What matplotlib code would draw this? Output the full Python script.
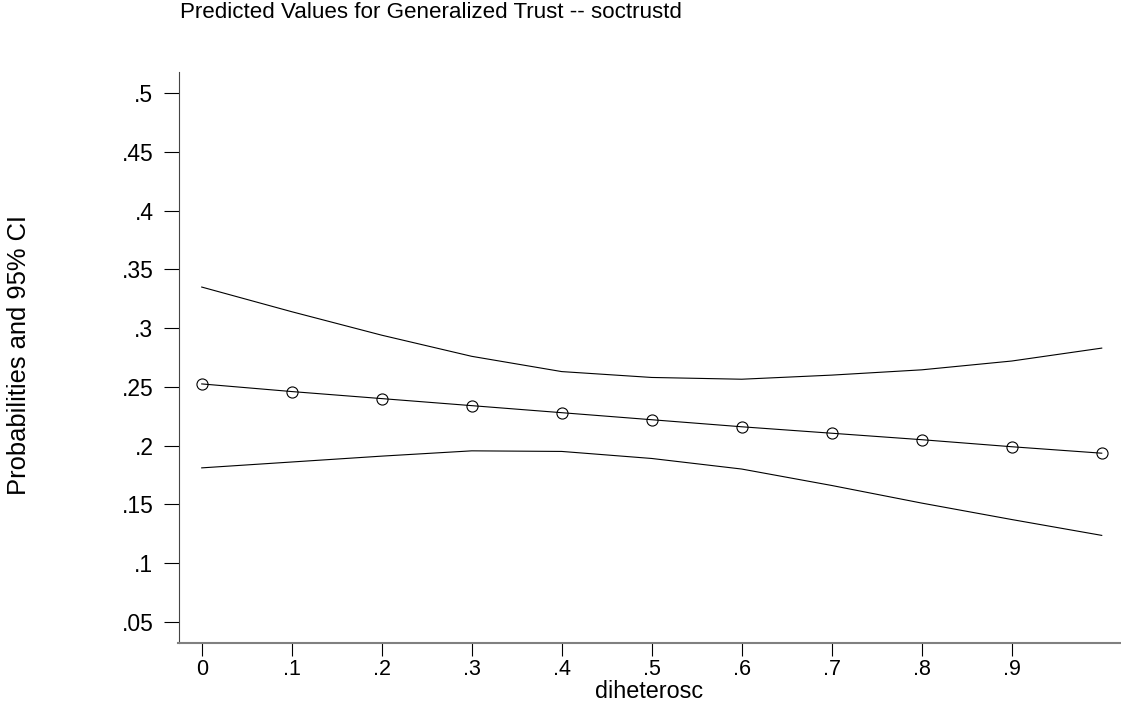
import matplotlib
matplotlib.use("Agg")
import matplotlib.pyplot as plt

plt.rcParams['font.family'] = ['Liberation Sans', 'DejaVu Sans']

# predicted probabilities with 95% CI
x = [0, .1, .2, .3, .4, .5, .6, .7, .8, .9, 1.0]
pred = [0.2525, 0.246, 0.240, 0.234, 0.228, 0.222, 0.216, 0.2105, 0.205, 0.199, 0.1935]
upper = [0.335, 0.314, 0.294, 0.276, 0.263, 0.258, 0.2565, 0.260, 0.2645, 0.272, 0.283]
lower = [0.181, 0.186, 0.191, 0.1955, 0.195, 0.189, 0.180, 0.166, 0.151, 0.137, 0.1235]

xticks = [0, .1, .2, .3, .4, .5, .6, .7, .8, .9]
xticklabels = ["0", ".1", ".2", ".3", ".4", ".5", ".6", ".7", ".8", ".9"]
yticks = [.05, .1, .15, .2, .25, .3, .35, .4, .45, .5]
yticklabels = [".05", ".1", ".15", ".2", ".25", ".3", ".35", ".4", ".45", ".5"]

W, H = 1121, 708
fig = plt.figure(figsize=(W/100, H/100), dpi=100)
ax = fig.add_axes([178.5/W, 1 - 642.7/H, (1120 - 178.5)/W, (642.7 - 72.3)/H])

ax.plot(x, upper, color="black", lw=0.8)
ax.plot(x, lower, color="black", lw=0.8)
ax.plot(x, pred, color="black", lw=0.8, marker="o", ms=8, mfc="none", mec="black", mew=0.8)

ax.set_xlim(-0.0258, 1.0203)
ax.set_ylim(0.0321, 0.5179)
ax.set_xticks(xticks)
ax.set_xticklabels(xticklabels)
ax.set_yticks(yticks)
ax.set_yticklabels(yticklabels)

for s in ["top", "right"]:
    ax.spines[s].set_visible(False)
ax.spines["left"].set_color("#444444")
ax.spines["bottom"].set_color("#808080")
ax.spines["bottom"].set_linewidth(1.5)
ax.tick_params(axis="y", direction="out", length=10.5, width=0.8, colors="black",
               labelsize=16.5, pad=7.5)
ax.tick_params(axis="x", direction="out", length=9, width=0.8, colors="black",
               labelsize=15.5, pad=2.5)

ax.set_xlabel("diheterosc", fontsize=16.8, labelpad=0.3)
fig.text(19/W, 1 - 355/H, "Probabilities and 95% CI", rotation=90, fontsize=18.4,
         ha="center", va="center")
fig.text(180/W, 1 - 12/H, "Predicted Values for Generalized Trust -- soctrustd",
         fontsize=16.1, ha="left", va="center")

fig.savefig("out.png", dpi=100)
